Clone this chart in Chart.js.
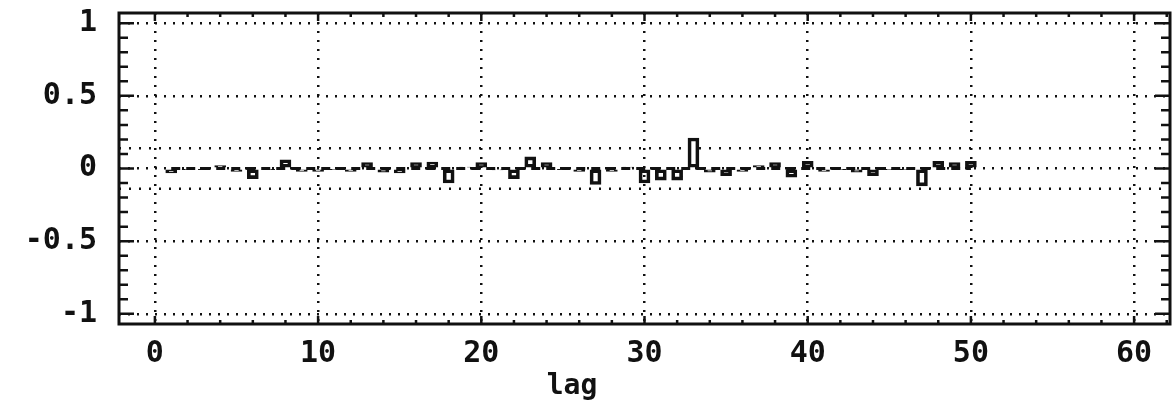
<!DOCTYPE html>
<html>
<head>
<meta charset="utf-8">
<script src="https://cdn.jsdelivr.net/npm/chart.js@4/dist/chart.umd.min.js"></script>
<style>
  html, body { margin: 0; padding: 0; background: #fff; }
  #wrap { width: 1173px; height: 414px; position: relative; }
</style>
</head>
<body>
<div id="wrap"><canvas id="acf"></canvas></div>
<script>
// autocorrelation by lag
const lags = [1, 2, 3, 4, 5, 6, 7, 8, 9, 10,
  11, 12, 13, 14, 15, 16, 17, 18, 19, 20,
  21, 22, 23, 24, 25, 26, 27, 28, 29, 30,
  31, 32, 33, 34, 35, 36, 37, 38, 39, 40,
  41, 42, 43, 44, 45, 46, 47, 48, 49, 50];
const acf = [-0.03, -0.005, -0.005, 0.02, -0.02, -0.07, -0.005, 0.06, -0.02, -0.02,
  -0.005, -0.02, 0.04, -0.025, -0.03, 0.04, 0.045, -0.1, 0.01, 0.04,
  -0.01, -0.07, 0.08, 0.04, -0.005, -0.02, -0.11, -0.02, 0.01, -0.1,
  -0.08, -0.08, 0.21, -0.025, -0.05, -0.02, 0.02, 0.04, -0.06, 0.05,
  -0.02, -0.005, -0.025, -0.05, -0.005, -0.005, -0.12, 0.05, 0.04, 0.05];
const confBound = 0.14;

const xTicks = [0, 10, 20, 30, 40, 50, 60];
const xTickLabels = ["0", "10", "20", "30", "40", "50", "60"];
const yTicks = [-1, -0.5, 0, 0.5, 1];
const yTickLabels = ["-1", "-0.5", "0", "0.5", "1"];
const xMinor = [0, 2, 4, 6, 8, 10, 12, 14, 16, 18, 20, 22, 24, 26, 28, 30,
  32, 34, 36, 38, 40, 42, 44, 46, 48, 50, 52, 54, 56, 58, 60, 62];
const yMinor = [-1, -0.9, -0.8, -0.7, -0.6, -0.5, -0.4, -0.3, -0.2, -0.1, 0,
  0.1, 0.2, 0.3, 0.4, 0.5, 0.6, 0.7, 0.8, 0.9, 1];
const xRange = [-2.2, 62.2];
const yRange = [-1.07, 1.07];
const xTitle = "lag";

const ink = "#111";
const font = { family: "'DejaVu Sans Mono', monospace", size: 30, weight: "bold" };

// box + inward tick marks + axis title
const frame = {
  id: "frame",
  afterDraw(chart) {
    const { ctx, chartArea: a, scales } = chart;
    const xs = scales.x, ys = scales.y;
    ctx.save();
    ctx.strokeStyle = ink;
    ctx.lineWidth = 3;
    ctx.strokeRect(a.left, a.top, a.right - a.left, a.bottom - a.top);
    ctx.lineWidth = 2.5;
    ctx.beginPath();
    yMinor.forEach((v) => {
      const y = ys.getPixelForValue(v);
      const len = yTicks.includes(v) ? 15 : 9;
      ctx.moveTo(a.left, y); ctx.lineTo(a.left + len, y);
      ctx.moveTo(a.right, y); ctx.lineTo(a.right - len, y);
    });
    xMinor.forEach((v) => {
      const x = xs.getPixelForValue(v);
      const len = xTicks.includes(v) ? 8 : 4;
      ctx.moveTo(x, a.bottom); ctx.lineTo(x, a.bottom - len);
      ctx.moveTo(x, a.top); ctx.lineTo(x, a.top + len);
    });
    ctx.stroke();
    ctx.fillStyle = ink;
    ctx.font = `bold 28px ${font.family}`;
    ctx.textAlign = "center";
    ctx.textBaseline = "middle";
    ctx.fillText(xTitle, 572, 387);
    ctx.restore();
  },
};

const gridDash = { display: false, dash: [2, 7] };

new Chart(document.getElementById("acf"), {
  data: {
    datasets: [
      {
        type: "bar",
        data: lags.map((l, i) => ({ x: l, y: acf[i] })),
        backgroundColor: "rgba(0,0,0,0)",
        borderColor: ink,
        borderWidth: 3,
        borderSkipped: false,
        barThickness: 11,
        order: 0,
      },
      {
        type: "line",
        data: [{ x: lags[0], y: 0 }, { x: lags[lags.length - 1], y: 0 }],
        borderColor: ink,
        borderWidth: 3,
        borderDash: [9, 6],
        pointRadius: 0,
        order: 1,
      },
      {
        type: "line",
        data: [{ x: xRange[0], y: confBound }, { x: xRange[1], y: confBound }],
        borderColor: ink,
        borderWidth: 2.5,
        borderDash: [2, 8],
        pointRadius: 0,
        order: 2,
      },
      {
        type: "line",
        data: [{ x: xRange[0], y: -confBound }, { x: xRange[1], y: -confBound }],
        borderColor: ink,
        borderWidth: 2.5,
        borderDash: [2, 8],
        pointRadius: 0,
        order: 2,
      },
    ],
  },
  options: {
    responsive: true,
    maintainAspectRatio: false,
    animation: false,
    layout: { padding: { top: 13, right: 3, left: 0, bottom: 0 } },
    plugins: { legend: { display: false }, tooltip: { enabled: false } },
    scales: {
      x: {
        type: "linear",
        offset: false,
        min: xRange[0],
        max: xRange[1],
        afterBuildTicks: (s) => { s.ticks = xTicks.map((v) => ({ value: v })); },
        afterFit: (s) => { s.height = 90; s.paddingLeft = 0; s.paddingRight = 0; },
        ticks: {
          color: ink, font, padding: 12, maxRotation: 0, autoSkip: false,
          callback: (v) => xTickLabels[xTicks.indexOf(v)],
        },
        grid: { color: ink, lineWidth: 2.5, drawTicks: false, offset: false },
        border: gridDash,
      },
      y: {
        min: yRange[0],
        max: yRange[1],
        afterBuildTicks: (s) => { s.ticks = yTicks.map((v) => ({ value: v })); },
        afterFit: (s) => { s.width = 119; s.paddingTop = 0; s.paddingBottom = 0; },
        ticks: {
          color: ink, font, padding: 22, autoSkip: false,
          callback: (v) => yTickLabels[yTicks.indexOf(v)],
        },
        grid: { color: ink, lineWidth: 2.5, drawTicks: false },
        border: gridDash,
      },
    },
  },
  plugins: [frame],
});
</script>
</body>
</html>
